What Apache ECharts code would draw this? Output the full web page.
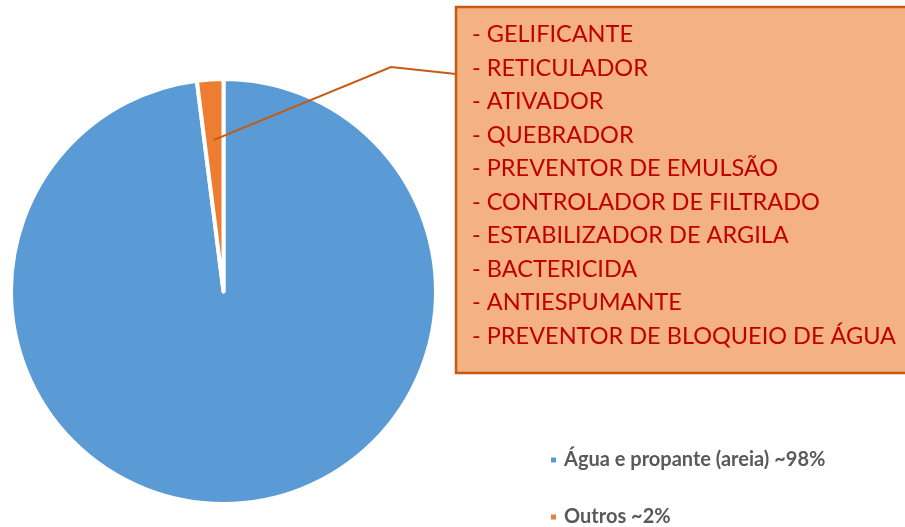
<!DOCTYPE html>
<html>
<head>
<meta charset="utf-8">
<script src="https://cdn.jsdelivr.net/npm/echarts@6/dist/echarts.min.js"></script>
<style>
  html, body { margin: 0; padding: 0; background: #ffffff; }
  #chart { width: 905px; height: 527px; }
</style>
</head>
<body>
<div id="chart"></div>
<script>
// Composition of the fracturing fluid
const categories = ['Água e propante (areia) ~98%', 'Outros ~2%'];
const shares = [98, 2];
const sliceColors = ['#5B9BD5', '#ED7D31'];

// Additives that make up the "Outros" share
const additives = [
  '- GELIFICANTE',
  '- RETICULADOR',
  '- ATIVADOR',
  '- QUEBRADOR',
  '- PREVENTOR DE EMULSÃO',
  '- CONTROLADOR DE FILTRADO',
  '- ESTABILIZADOR DE ARGILA',
  '- BACTERICIDA',
  '- ANTIESPUMANTE',
  '- PREVENTOR DE BLOQUEIO DE ÁGUA'
];

const pieCenter = [223.5, 291.5];
const pieRadius = 212.5;
const startAngle = 90;

// Anchor of the callout line: middle of the "Outros" slice, part way out
const total = shares.reduce((a, b) => a + b, 0);
const before = shares.slice(0, 1).reduce((a, b) => a + b, 0);
const midDeg = startAngle - 360 * (before + shares[1] / 2) / total;
const midRad = midDeg * Math.PI / 180;
const anchorR = pieRadius * 0.715;
const anchor = [pieCenter[0] + anchorR * Math.cos(midRad), pieCenter[1] - anchorR * Math.sin(midRad)];

const chart = echarts.init(document.getElementById('chart'), null, { renderer: 'canvas' });

chart.setOption({
  animation: false,
  backgroundColor: '#ffffff',
  color: sliceColors,
  legend: {
    orient: 'vertical',
    left: 549,
    top: 450,
    padding: 0,
    itemWidth: 7,
    itemHeight: 7,
    itemGap: 37,
    icon: 'rect',
    selectedMode: false,
    data: categories,
    textStyle: {
      fontFamily: 'Lato',
      fontWeight: 'bold',
      fontSize: 20,
      lineHeight: 20,
      color: '#595959',
      padding: [0, 0, 0, 2]
    }
  },
  series: [{
    type: 'pie',
    center: pieCenter,
    radius: pieRadius,
    startAngle: startAngle,
    clockwise: true,
    silent: true,
    label: { show: false },
    labelLine: { show: false },
    itemStyle: { borderColor: '#ffffff', borderWidth: 4 },
    emphasis: { disabled: true },
    data: categories.map((name, i) => ({ name: name, value: shares[i] }))
  }],
  graphic: [
    {
      type: 'polyline',
      silent: true,
      z: 10,
      shape: { points: [anchor, [391, 67], [456, 74]] },
      style: { stroke: '#C55A11', lineWidth: 2, fill: null }
    },
    {
      type: 'rect',
      silent: true,
      z: 11,
      shape: { x: 456, y: 7, width: 470, height: 366 },
      style: { fill: '#F4B183', stroke: '#C55A11', lineWidth: 2.5 }
    },
    {
      type: 'text',
      silent: true,
      z: 12,
      x: 472,
      y: 18,
      style: {
        text: additives.join('\n'),
        fill: '#C00000',
        font: '23.5px Lato',
        lineHeight: 33.5,
        verticalAlign: 'top',
        align: 'left'
      }
    }
  ]
});
</script>
</body>
</html>
